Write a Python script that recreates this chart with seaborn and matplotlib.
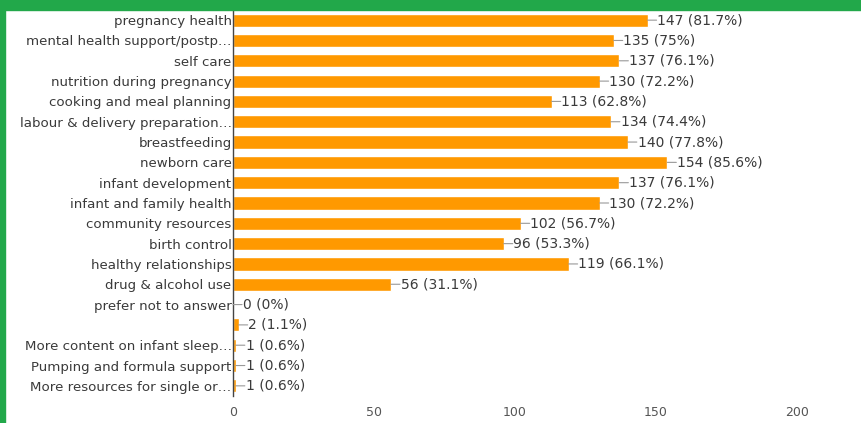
import matplotlib
matplotlib.use("Agg")
import matplotlib.pyplot as plt
import seaborn as sns
import pandas as pd

topics = [
    "pregnancy health",
    "mental health support/postp…",
    "self care",
    "nutrition during pregnancy",
    "cooking and meal planning",
    "labour & delivery preparation…",
    "breastfeeding",
    "newborn care",
    "infant development",
    "infant and family health",
    "community resources",
    "birth control",
    "healthy relationships",
    "drug & alcohol use",
    "prefer not to answer",
    "",
    "More content on infant sleep…",
    "Pumping and formula support",
    "More resources for single or…",
]
counts = [147, 135, 137, 130, 113, 134, 140, 154, 137, 130, 102, 96, 119, 56, 0, 2, 1, 1, 1]
percents = ["81.7", "75", "76.1", "72.2", "62.8", "74.4", "77.8", "85.6", "76.1", "72.2",
            "56.7", "53.3", "66.1", "31.1", "0", "1.1", "0.6", "0.6", "0.6"]
x_ticks = [0, 50, 100, 150, 200]

df = pd.DataFrame({"topic": topics, "count": counts})

sns.set_theme(style="white")
plt.rcParams["font.family"] = ["DejaVu Sans"]

fig = plt.figure(figsize=(8.61, 4.23), dpi=100)
fig.patch.set_facecolor("white")

ax = fig.add_axes([233 / 861, 27 / 423, (797 - 233) / 861, (413 - 27) / 423])
ax.patch.set_alpha(0)
sns.barplot(data=df, x="count", y="topic", orient="h", color="#ff9900",
            saturation=1, width=0.65, ax=ax, order=topics)

ax.set_xlim(0, 200)
ax.set_ylim(len(topics) - 0.5, -0.5)
ax.set_xticks(x_ticks)
ax.set_xticklabels([str(t) for t in x_ticks], fontsize=9, color="#555555")
ax.set_yticks(range(len(topics)))
ax.set_yticklabels(topics, fontsize=9.6, color="#3a3a3a")
ax.tick_params(axis="y", length=0, pad=1)
ax.tick_params(axis="x", length=0, pad=7)
ax.set_xlabel("")
ax.set_ylabel("")

for side in ["top", "right", "bottom"]:
    ax.spines[side].set_visible(False)
ax.spines["left"].set_color("#444444")
ax.spines["left"].set_linewidth(1.0)

# value labels with short leader lines
for i, (c, p) in enumerate(zip(counts, percents)):
    ax.annotate("", xy=(c, i), xytext=(6.5, 0), textcoords="offset points",
                xycoords="data",
                arrowprops=dict(arrowstyle="-", color="#999999", lw=0.8,
                                shrinkA=0, shrinkB=0))
    ax.annotate(f"{c} ({p}%)", xy=(c, i), xytext=(7, 0), textcoords="offset points",
                ha="left", va="center", fontsize=10, color="#3a3a3a")

# green frame along the top and left edges
green = "#22a84a"
fig.add_artist(plt.Rectangle((0, 1 - 10 / 423), 1, 10 / 423, transform=fig.transFigure,
                             color=green, zorder=10))
fig.add_artist(plt.Rectangle((0, 0), 5 / 861, 1, transform=fig.transFigure,
                             color=green, zorder=10))

fig.savefig("out.png", dpi=100)
